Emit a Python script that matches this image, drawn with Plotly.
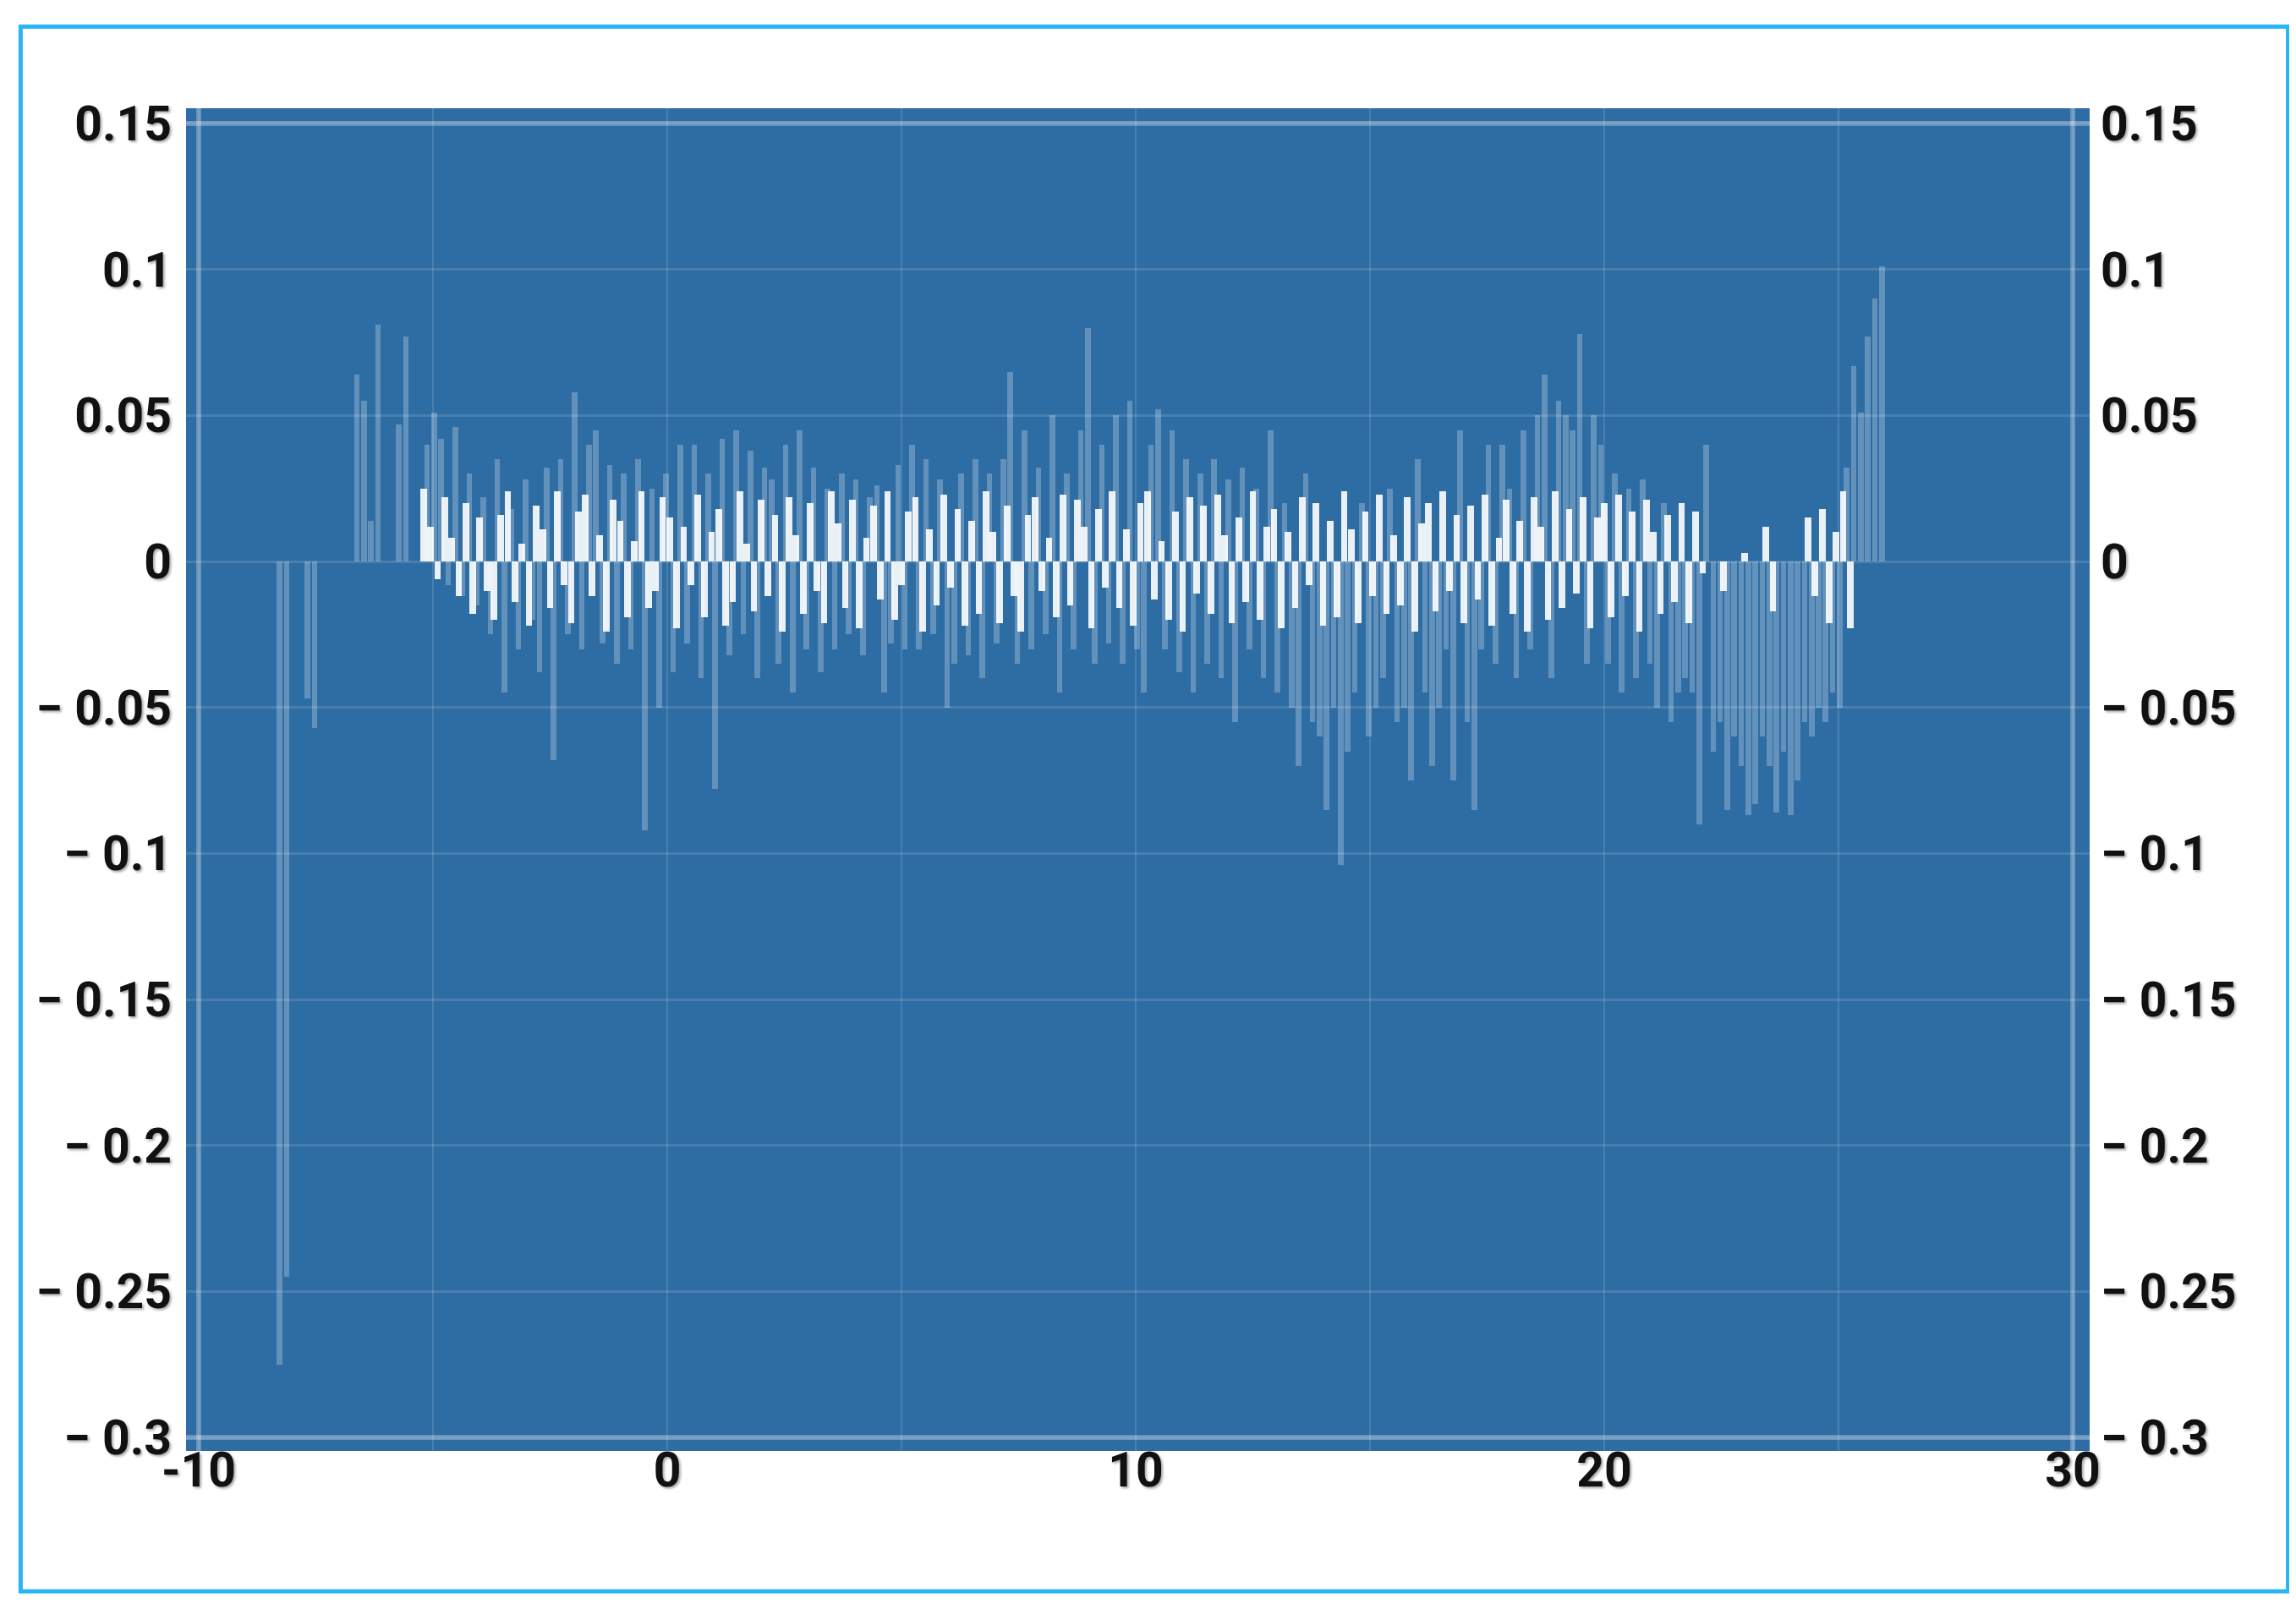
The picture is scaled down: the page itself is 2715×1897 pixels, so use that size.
import plotly.graph_objects as go

# ---------------- data ----------------
x_start = -8.35
x_step = 0.15
faint_shift = 0.075   # faint bars sit between the bright ones

faint_values = [
    -0.275, -0.245, 0, 0, -0.047, -0.057, 0, 0, 0, 0,
    0, 0.064, 0.055, 0.014, 0.081, 0, 0, 0.047, 0.077, 0,
    0, 0.040, 0.051, 0.042, -0.008, 0.046, -0.012, 0.030, -0.015, 0.022,
    -0.025, 0.035, -0.045, 0.018, -0.030, 0.028, -0.020, -0.038, 0.032, -0.068,
    0.035, -0.025, 0.058, -0.030, 0.040, 0.045, -0.028, 0.033, -0.035, 0.030,
    -0.030, 0.035, -0.092, 0.025, -0.050, 0.030, -0.038, 0.040, -0.028, 0.040,
    -0.040, 0.030, -0.078, 0.042, -0.032, 0.045, -0.025, 0.038, -0.040, 0.032,
    0.028, -0.035, 0.040, -0.045, 0.045, -0.030, 0.032, -0.038, 0.025, -0.030,
    0.030, -0.025, 0.028, -0.032, 0.022, 0.026, -0.045, -0.028, 0.033, -0.030,
    0.040, -0.030, 0.035, -0.025, 0.028, -0.050, -0.035, 0.030, -0.032, 0.035,
    -0.040, 0.030, -0.028, 0.035, 0.065, -0.035, 0.045, -0.030, 0.032, -0.025,
    0.050, -0.045, 0.030, -0.030, 0.045, 0.080, -0.035, 0.040, -0.028, 0.050,
    -0.035, 0.055, -0.030, -0.045, 0.040, 0.052, -0.030, 0.045, -0.038, 0.035,
    -0.045, 0.030, -0.035, 0.035, -0.040, 0.028, -0.055, 0.032, -0.030, 0.025,
    -0.040, 0.045, -0.045, 0.020, -0.050, -0.070, 0.030, -0.055, -0.060, -0.085,
    -0.050, -0.104, -0.065, -0.045, 0.020, -0.060, -0.050, -0.040, 0.025, -0.055,
    -0.050, -0.075, 0.035, -0.045, -0.070, -0.050, -0.030, -0.075, 0.045, -0.055,
    -0.085, -0.030, 0.040, -0.035, 0.040, 0.025, -0.040, 0.045, -0.030, 0.050,
    0.064, -0.040, 0.055, 0.050, 0.045, 0.078, -0.035, 0.050, 0.040, -0.035,
    0.030, -0.045, 0.025, -0.040, 0.028, -0.035, -0.050, 0.020, -0.055, -0.045,
    -0.040, -0.045, -0.090, 0.040, -0.065, -0.055, -0.085, -0.060, -0.070, -0.087,
    -0.083, -0.060, -0.070, -0.086, -0.065, -0.087, -0.075, -0.055, -0.060, -0.050,
    -0.055, -0.045, -0.050, 0.032, 0.067, 0.051, 0.077, 0.090, 0.101,
]

bright_values = [
    0, 0, 0, 0, 0, 0, 0, 0, 0, 0,
    0, 0, 0, 0, 0, 0, 0, 0, 0, 0,
    0, 0.025, 0.012, -0.006, 0.022, 0.008, -0.012, 0.020, -0.018, 0.015,
    -0.010, -0.020, 0.016, 0.024, -0.014, 0.006, -0.022, 0.019, 0.011, -0.016,
    0.024, -0.008, -0.021, 0.017, 0.023, -0.012, 0.009, -0.024, 0.021, 0.014,
    -0.019, 0.007, 0.024, -0.016, -0.010, 0.022, 0.015, -0.023, 0.012, -0.008,
    0.023, -0.019, 0.010, 0.018, -0.022, -0.014, 0.024, 0.006, -0.017, 0.021,
    -0.012, 0.016, -0.024, 0.022, 0.009, -0.018, 0.020, -0.010, -0.021, 0.024,
    0.013, -0.016, 0.021, -0.023, 0.008, 0.019, -0.013, 0.024, -0.020, -0.008,
    0.017, 0.022, -0.024, 0.011, -0.015, 0.023, -0.009, 0.018, -0.022, 0.014,
    -0.018, 0.024, 0.010, -0.021, 0.019, -0.012, -0.024, 0.016, 0.022, -0.010,
    0.008, -0.019, 0.023, -0.015, 0.021, 0.012, -0.023, 0.018, -0.009, 0.024,
    -0.016, 0.011, -0.022, 0.020, 0.024, -0.013, 0.007, -0.020, 0.017, -0.024,
    0.022, -0.011, 0.019, -0.018, 0.023, 0.009, -0.021, 0.015, -0.014, 0.024,
    -0.020, 0.012, 0.018, -0.023, 0.010, -0.016, 0.022, -0.008, 0.020, -0.022,
    0.014, -0.019, 0.024, 0.011, -0.021, 0.017, -0.012, 0.023, -0.018, 0.009,
    -0.015, 0.022, -0.024, 0.013, 0.020, -0.017, 0.024, -0.010, 0.016, -0.021,
    0.019, -0.013, 0.023, -0.022, 0.008, 0.021, -0.018, 0.014, -0.024, 0.022,
    0.012, -0.020, 0.024, -0.016, 0.018, -0.011, 0.022, -0.023, 0.015, 0.020,
    -0.019, 0.023, -0.012, 0.017, -0.024, 0.021, 0.010, -0.018, 0.016, -0.014,
    0.020, -0.021, 0.017, -0.004, 0, 0, -0.010, 0, 0, 0.003,
    0, 0, 0.012, -0.017, 0, 0, 0, 0, 0.015, -0.012,
    0.018, -0.021, 0.010, 0.024, -0.023, 0, 0, 0, 0,
]

x_values = [round(x_start + x_step * i, 3) for i in range(len(bright_values))]
x_faint = [round(x_start + faint_shift + x_step * i, 3) for i in range(len(faint_values))]

x_tick_vals = [-10, -5, 0, 5, 10, 15, 20, 25, 30]
x_tick_text = ["-10", "", "0", "", "10", "", "20", "", "30"]
y_tick_vals = [0.15, 0.1, 0.05, 0, -0.05, -0.1, -0.15, -0.2, -0.25, -0.3]
y_tick_text = ["0.15", "0.1", "0.05", "0", "\u2212 0.05", "\u2212 0.1",
               "\u2212 0.15", "\u2212 0.2", "\u2212 0.25", "\u2212 0.3"]

# ---------------- styling ----------------
W, H = 2715, 1897
BG_BLUE = "#2e6da4"
GRID = "rgba(255,255,255,0.13)"
FRAME = "rgba(255,255,255,0.28)"
x_range = [-10.27, 30.36]
y_range = [-0.3046, 0.1552]
tick_font = dict(family="Liberation Sans Narrow, Roboto, Lato, sans-serif",
                 size=57, color="#111111", weight="bold",
                 shadow="2px 2px 3px rgba(0,0,0,0.35)")

fig = go.Figure()
fig.add_trace(go.Bar(
    x=x_faint, y=faint_values, width=0.12,
    marker=dict(color="rgba(255,255,255,0.25)", line=dict(width=0)),
    yaxis="y", hoverinfo="skip", showlegend=False,
))
fig.add_trace(go.Bar(
    x=x_values, y=bright_values, width=0.14,
    marker=dict(color="rgba(255,255,255,0.9)", line=dict(width=0)),
    yaxis="y2", hoverinfo="skip", showlegend=False,
))

axis_common = dict(showline=False, zeroline=False, ticks="")

fig.update_layout(
    width=W, height=H,
    margin=dict(l=212, r=252, t=120, b=189, pad=0),
    paper_bgcolor="white",
    plot_bgcolor=BG_BLUE,
    barmode="overlay",
    bargap=0,
    showlegend=False,
    xaxis=dict(range=x_range, tickmode="array", tickvals=x_tick_vals,
               ticktext=x_tick_text, showgrid=True, gridcolor=GRID,
               gridwidth=2, tickfont=tick_font, ticklabelstandoff=-16,
               **axis_common),
    yaxis=dict(range=y_range, tickmode="array", tickvals=y_tick_vals,
               ticktext=y_tick_text, showgrid=True, gridcolor=GRID,
               gridwidth=3, tickfont=tick_font, ticklabelstandoff=16,
               side="left", **axis_common),
    yaxis2=dict(range=y_range, tickmode="array", tickvals=y_tick_vals,
                ticktext=y_tick_text, showgrid=False, tickfont=tick_font,
                ticklabelstandoff=12, side="right", overlaying="y",
                **axis_common),
)

# lighter frame lines at the axis limits
for xv in (x_tick_vals[0], x_tick_vals[-1]):
    fig.add_shape(type="line", xref="x", yref="paper", x0=xv, x1=xv, y0=0, y1=1,
                  line=dict(color=FRAME, width=6), layer="below")
for yv in (y_tick_vals[0], y_tick_vals[-1]):
    fig.add_shape(type="line", xref="paper", yref="y", x0=0, x1=1, y0=yv, y1=yv,
                  line=dict(color=FRAME, width=6), layer="below")

# outer light-blue border around the figure
fig.add_shape(type="rect", xref="paper", yref="paper",
              x0=-0.0869, x1=1.1042, y0=-0.1045, y1=1.0608,
              line=dict(color="#29b6f6", width=5), fillcolor="rgba(0,0,0,0)",
              layer="above")

fig.write_html("out.html")
